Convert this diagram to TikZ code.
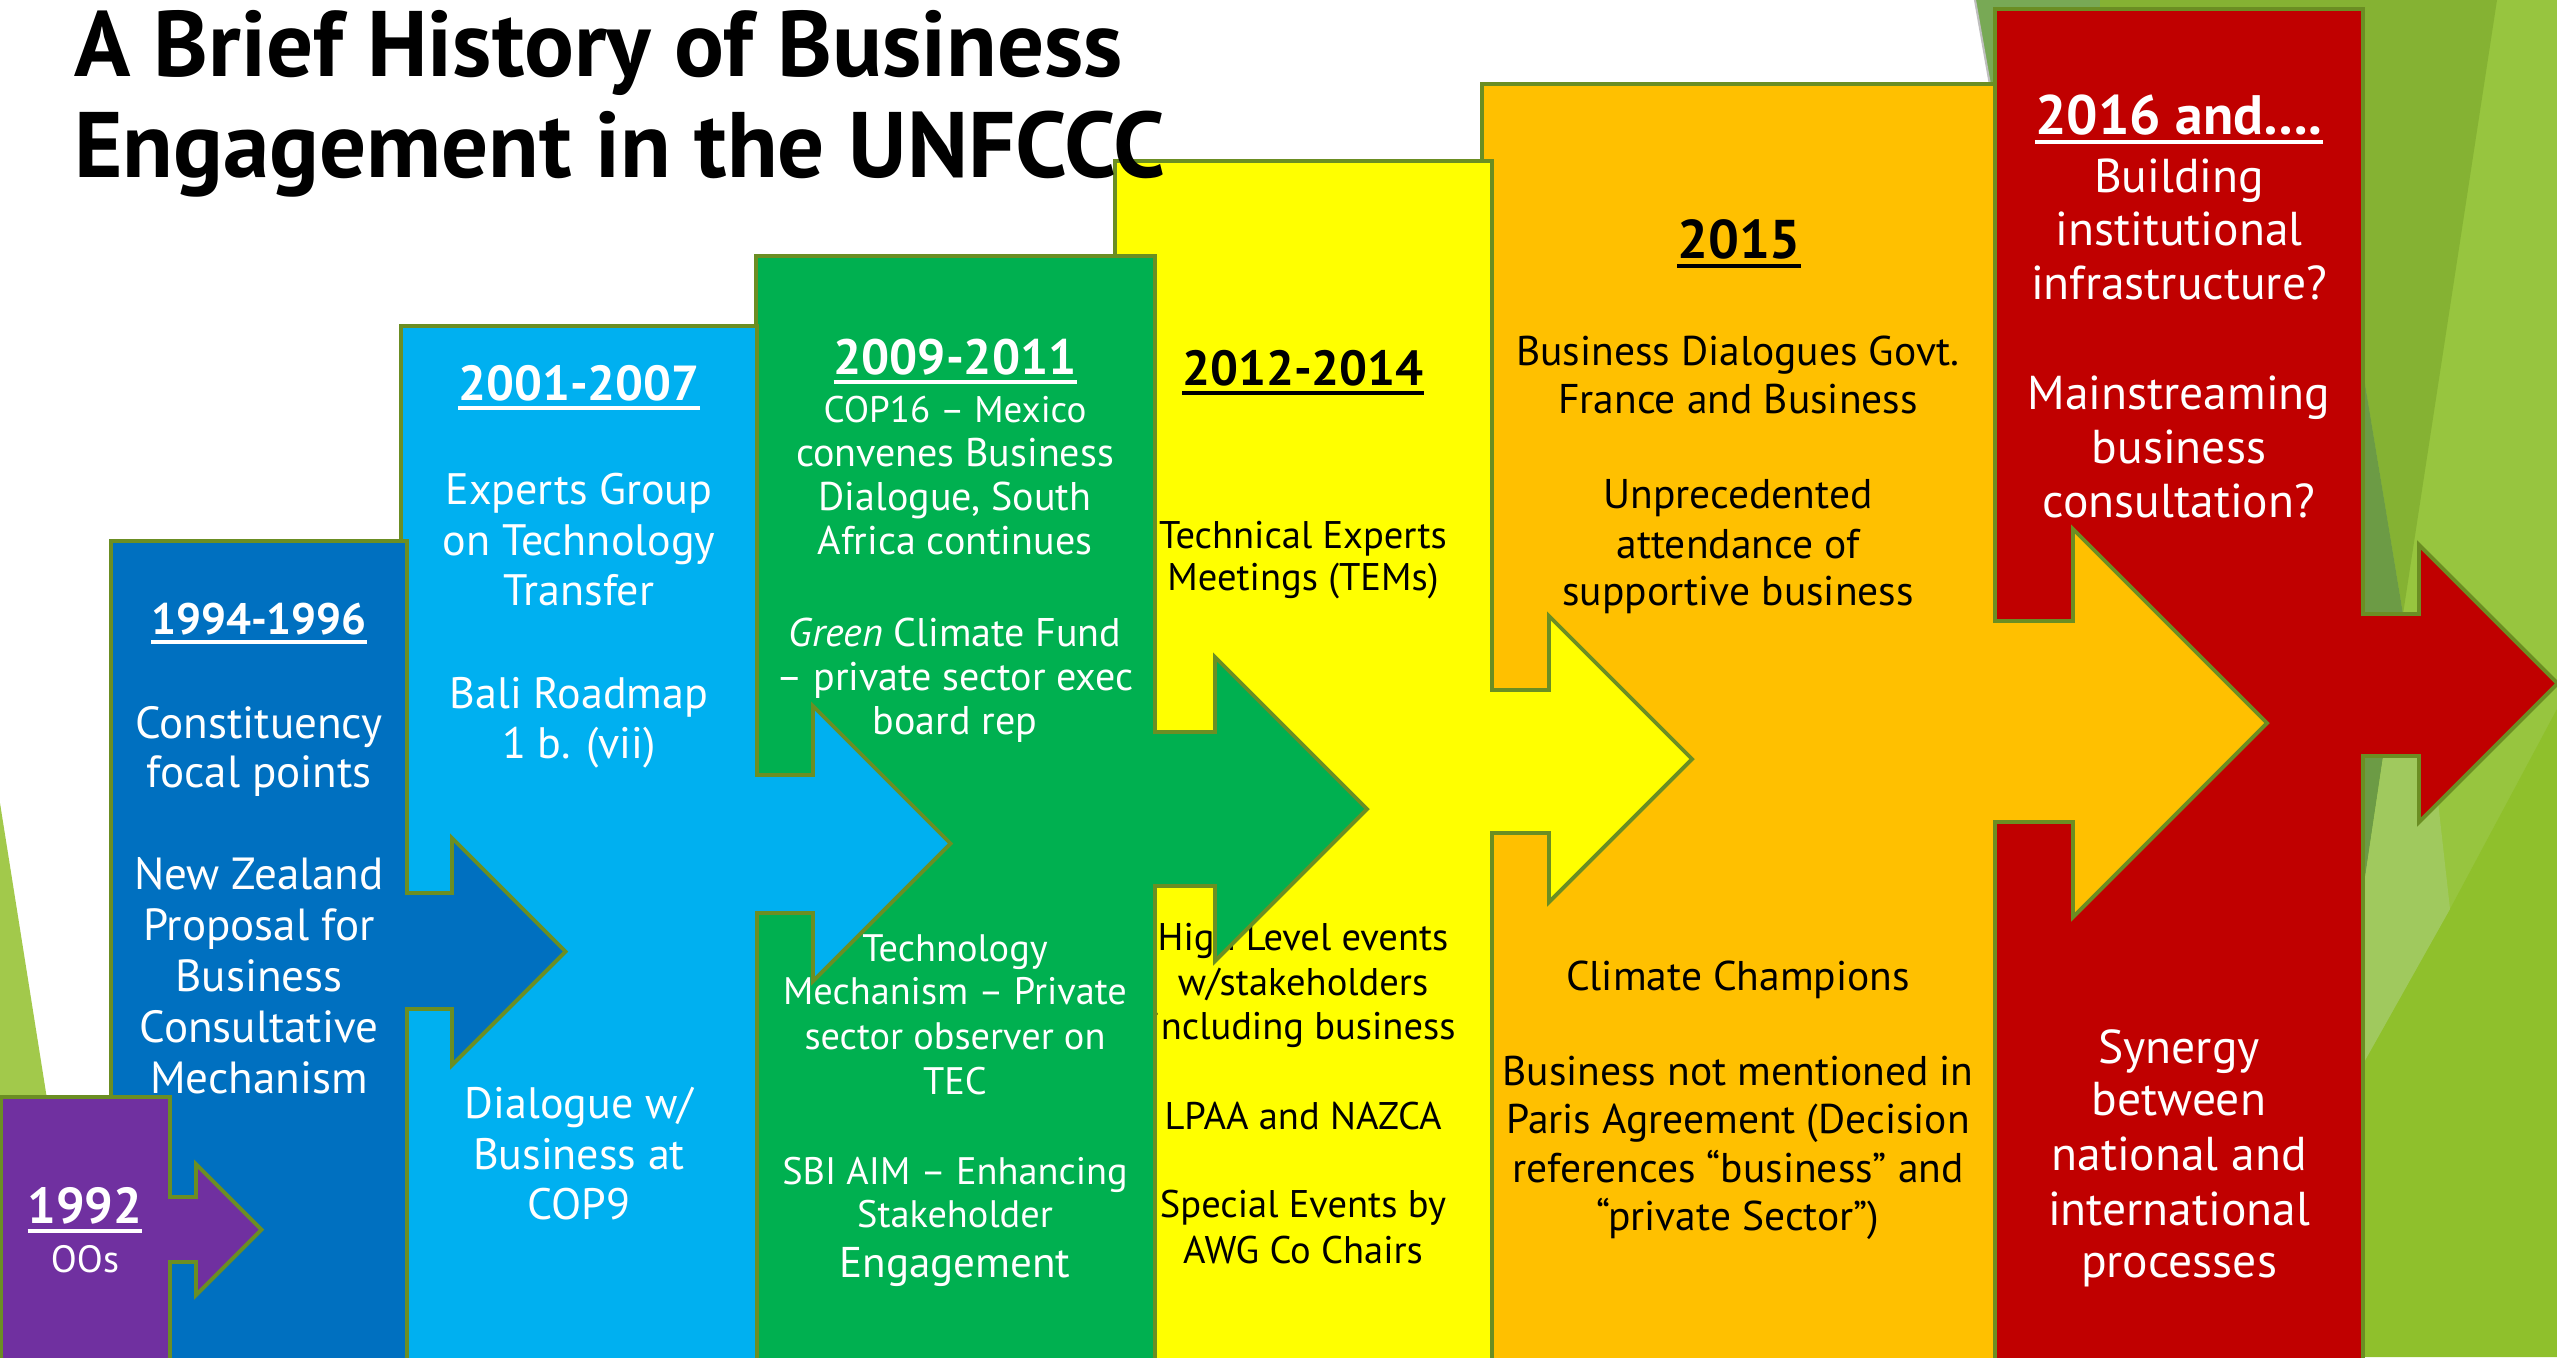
\documentclass[tikz,border=0pt]{standalone}
\usepackage{fontspec}
\setmainfont{PT Sans}
\definecolor{purpleC}{HTML}{7030A0}
\definecolor{blueC}{HTML}{0070C0}
\definecolor{lblueC}{HTML}{00B0F0}
\definecolor{greenC}{HTML}{00B050}
\definecolor{yellowC}{HTML}{FFFF00}
\definecolor{orangeC}{HTML}{FFC000}
\definecolor{redC}{HTML}{C00000}
\definecolor{edgeC}{RGB}{107,142,35}
\definecolor{bgA}{HTML}{97C53F}
\definecolor{bgB}{HTML}{85B233}
\definecolor{bgC}{HTML}{6C9B45}
\definecolor{bgD}{HTML}{A0C95E}
\definecolor{bgE}{HTML}{8FC02C}
\definecolor{bgF}{HTML}{78A955}
\definecolor{bgL}{HTML}{A2C94B}
\newcommand\fpx[1]{\fontsize{\fpeval{#1*0.28453}}{\fpeval{#1*0.34}}\selectfont}
% callout: colour, left, right, top, shaft top, shaft bottom, head base x, head top, head bottom
\newcommand\callout[9]{%
  \filldraw[shp, fill=#1] (#2,1380) -- (#2,#4) -- (#3,#4) -- (#3,#5) -- (#7,#5) -- (#7,#8)
    -- ({#7+(#9-#8)/2},{(#8+#9)/2}) -- (#7,#9) -- (#7,#6) -- (#3,#6) -- (#3,1380) -- cycle;}
\newcommand\tline[4]{\node[lt] (#1) at (#2,#3) {#4};}
\newcommand\yearline[2]{\draw[line width=1.15pt, #2] ([yshift=-2.3pt]#1.base west) -- ([yshift=-2.3pt]#1.base east);}
\tikzset{
  lt/.style={anchor=base, inner sep=0pt, outer sep=0pt},
  shp/.style={draw=edgeC, line width=1.1pt, line join=miter},
  yr/.style={font=\bfseries\fpx{#1}},
}
\begin{document}
\begin{tikzpicture}[x=0.01cm, y=-0.01cm]
\useasboundingbox (0,0) rectangle (2557,1357);
\clip (0,0) rectangle (2557,1357);
\fill[white] (0,0) rectangle (2557,1357);
% background facets
\fill[bgL] (0,803) -- (88,1357) -- (0,1357) -- cycle;
\fill[bgF] (1975,0) -- (2100,0) -- (2100,120) -- (1990,85) -- cycle;
\fill[bgA] (2100,0) -- (2557,0) -- (2557,1357) -- (2100,1357) -- cycle;
\fill[bgB] (2100,0) -- (2497,0) -- (2403,614) -- (2363,372) -- (2100,372) -- cycle;
\fill[bgC] (2363,372) -- (2403,614) -- (2363,614) -- cycle;
\fill[bgE] (2557,709) -- (2557,1357) -- (2200,1357) -- (2200,1064) -- (2363,1064) -- (2450,909) -- cycle;
\fill[bgC] (2363,757) -- (2383,757) -- (2363,891) -- cycle;
\fill[bgD] (2383,757) -- (2433,757) -- (2450,909) -- (2363,1064) -- (2363,891) -- cycle;
\draw[gray!50, line width=0.6pt] (1975,0) -- (1990,85);

% ---------- 2016 (red)
\callout{redC}{1995}{2363}{9}{614}{756}{2419}{545}{822}
\begin{scope}[every node/.append style={text=white, font=\fpx{47.5}}]
\node[lt, yr=55.5] (r0) at (2179,134) {2016 and….};
\yearline{r0}{white}
\tline{r1}{2179}{192}{Building}
\tline{r2}{2179}{245}{institutional}
\tline{r3}{2179}{299}{infrastructure?}
\tline{r4}{2179}{409}{Mainstreaming}
\tline{r5}{2179}{463}{business}
\tline{r6}{2179}{517}{consultation?}
\tline{r7}{2179}{1063}{Synergy}
\tline{r8}{2179}{1115}{between}
\tline{r9}{2179}{1170}{national and}
\tline{r10}{2179}{1225}{international}
\tline{r11}{2179}{1277}{processes}
\end{scope}

% ---------- 2015 (orange)
\callout{orangeC}{1482}{1995}{84}{621}{822}{2073}{529}{917}
\begin{scope}[every node/.append style={text=black, font=\fpx{41.5}}]
\node[lt, yr=54.5] (o0) at (1739,258) {2015};
\yearline{o0}{black}
\tline{o1}{1738}{365}{Business Dialogues Govt.}
\tline{o2}{1738}{413}{France and Business}
\tline{o3}{1738}{508}{Unprecedented}
\tline{o4}{1738}{558}{attendance of}
\tline{o5}{1738}{605}{supportive business}
\tline{o6}{1738}{990}{Climate Champions}
\tline{o7}{1738}{1085}{Business not mentioned in}
\tline{o8}{1738}{1133}{Paris Agreement (Decision}
\tline{o9}{1738}{1182}{references “business” and}
\tline{o10}{1738}{1230}{“private Sector”)}
\end{scope}

% ---------- 2012-2014 (yellow)
\callout{yellowC}{1115}{1492}{161}{690}{833}{1549}{616}{902}
\begin{scope}[every node/.append style={text=black, font=\fpx{38.5}}]
\node[lt, yr=49.3] (y0) at (1303,385) {2012-2014};
\yearline{y0}{black}
\tline{y1}{1303}{548}{Technical Experts}
\tline{y2}{1303}{590}{Meetings (TEMs)}
\tline{y3}{1303}{950}{High Level events}
\tline{y4}{1303}{995}{w/stakeholders}
\tline{y5}{1303}{1039}{including business}
\tline{y6}{1303}{1129}{LPAA and NAZCA}
\tline{y7}{1303}{1217}{Special Events by}
\tline{y8}{1303}{1263}{AWG Co Chairs}
\end{scope}

% ---------- 2009-2011 (green)
\callout{greenC}{756}{1155}{256}{732}{886}{1215}{657}{961}
\begin{scope}[every node/.append style={text=white, font=\fpx{40}}]
\node[lt, yr=49.6] (g0) at (955,374) {2009-2011};
\yearline{g0}{white}
\node[lt, font=\fpx{37}] (g1) at (955,422) {COP16 – Mexico};
\tline{g2}{955}{466}{convenes Business}
\tline{g3}{955}{510}{Dialogue, South}
\tline{g4}{955}{554}{Africa continues}
\tline{g5}{955}{646}{\textit{Green} Climate Fund}
\tline{g6}{955}{690}{– private sector exec}
\tline{g7}{955}{734}{board rep}
\end{scope}
\begin{scope}[every node/.append style={text=white, font=\fpx{38.3}}]
\tline{g8}{955}{961}{Technology}
\tline{g9}{955}{1004}{Mechanism – Private}
\tline{g10}{955}{1049}{sector observer on}
\tline{g11}{955}{1094}{TEC}
\tline{g12}{955}{1184}{SBI AIM – Enhancing}
\tline{g13}{955}{1227}{Stakeholder}
\node[lt, font=\fpx{43}] (g14) at (955,1277) {Engagement};
\end{scope}

% ---------- 2001-2007 (light blue)
\callout{lblueC}{401}{757}{326}{775}{913}{813}{706}{981}
\begin{scope}[every node/.append style={text=white, font=\fpx{44}}]
\node[lt, yr=49.2] (l0) at (579,400) {2001-2007};
\yearline{l0}{white}
\tline{l1}{579}{504}{Experts Group}
\tline{l2}{579}{555}{on Technology}
\tline{l3}{579}{605}{Transfer}
\tline{l4}{579}{708}{Bali Roadmap}
\tline{l5}{579}{758}{1 b. (vii)}
\tline{l6}{579}{1118}{Dialogue w/}
\tline{l7}{579}{1169}{Business at}
\tline{l8}{579}{1219}{COP9}
\end{scope}

% ---------- 1994-1996 (blue)
\callout{blueC}{111}{407}{541}{893}{1009}{452}{838}{1065}
\begin{scope}[every node/.append style={text=white, font=\fpx{45}}]
\node[lt, yr=44] (b0) at (259,634) {1994-1996};
\yearline{b0}{white}
\tline{b1}{259}{738}{Constituency}
\tline{b2}{259}{787}{focal points}
\tline{b3}{259}{889}{New Zealand}
\tline{b4}{259}{940}{Proposal for}
\tline{b5}{259}{991}{Business}
\tline{b6}{259}{1042}{Consultative}
\tline{b7}{259}{1093}{Mechanism}
\end{scope}

% ---------- 1992 (purple)
\callout{purpleC}{1}{170}{1097}{1197}{1262}{196}{1164}{1295}
\begin{scope}[every node/.append style={text=white, font=\fpx{38}}]
\node[lt, yr=50.5] (p0) at (85,1223) {1992};
\yearline{p0}{white}
\tline{p1}{85}{1272}{OOs}
\end{scope}

% ---------- title
\node[lt, anchor=base west, font=\bfseries\fpx{93}] (t1) at (74,76) {A Brief History of Business};
\node[lt, anchor=base west, font=\bfseries\fpx{93}] (t2) at (74,177.5) {Engagement in the UNFCCC};
\end{tikzpicture}
\end{document}
